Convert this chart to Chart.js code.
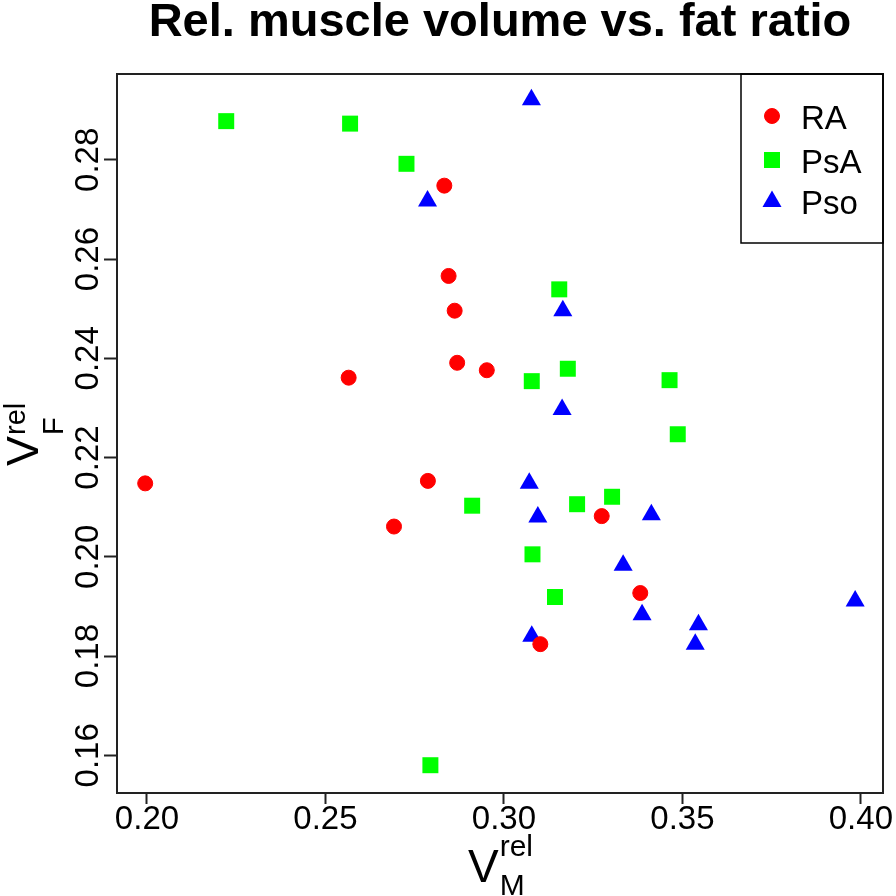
<!DOCTYPE html>
<html>
<head>
<meta charset="utf-8">
<script src="https://cdn.jsdelivr.net/npm/chart.js@4.4.1/dist/chart.umd.min.js"></script>
<style>
  html, body { margin: 0; padding: 0; background: #fff; }
</style>
</head>
<body>
<canvas id="chart" width="896" height="896"></canvas>
<script>
const titleText = 'Rel. muscle volume vs. fat ratio';
const seriesNames = ['RA', 'PsA', 'Pso'];

const raX = [0.1995, 0.2833, 0.2845, 0.2862, 0.2869, 0.2952, 0.2565, 0.2787, 0.2692, 0.3274, 0.3382, 0.3102];
const raY = [0.2148, 0.2748, 0.2566, 0.2496, 0.2391, 0.2376, 0.2361, 0.2153, 0.2061, 0.2082, 0.1927, 0.1824];

const psaX = [0.2222, 0.2569, 0.2727, 0.3155, 0.3179, 0.3078, 0.3464, 0.3487, 0.2911, 0.3205, 0.3303, 0.3080, 0.3143, 0.2794];
const psaY = [0.2878, 0.2873, 0.2792, 0.2539, 0.2379, 0.2354, 0.2356, 0.2247, 0.2103, 0.2106, 0.2121, 0.2005, 0.1919, 0.1580];

const psoX = [0.3077, 0.2786, 0.3165, 0.3163, 0.3071, 0.3095, 0.3413, 0.3334, 0.3387, 0.3545, 0.3536, 0.3078, 0.3984];
const psoY = [0.2921, 0.2717, 0.2496, 0.2297, 0.2148, 0.2080, 0.2085, 0.1983, 0.1883, 0.1863, 0.1824, 0.1840, 0.1911];

const xTicks = [0.20, 0.25, 0.30, 0.35, 0.40];
const yTicks = [0.16, 0.18, 0.20, 0.22, 0.24, 0.26, 0.28];
const xRange = [0.1916, 0.4062];
const yRange = [0.1524, 0.2973];

const FONT = '"Liberation Sans", Arial, sans-serif';

function pts(xs, ys) {
    return xs.map((x, i) => ({ x: x, y: ys[i] }));
}

// title, box, axis labels with sub/superscripts, legend
const decor = {
    id: 'decor',
    afterDraw(chart) {
        const ctx = chart.ctx;
        const a = chart.chartArea;
        const cx = (a.left + a.right) / 2;
        ctx.save();
        ctx.strokeStyle = '#222';
        ctx.lineWidth = 2;
        ctx.strokeRect(a.left, a.top, a.right - a.left, a.bottom - a.top);

        ctx.fillStyle = '#000';
        ctx.font = 'bold 47px ' + FONT;
        ctx.textAlign = 'center';
        ctx.textBaseline = 'alphabetic';
        ctx.fillText(titleText, cx, 36);

        // x label: V rel / M
        ctx.textAlign = 'left';
        ctx.font = '46px ' + FONT;
        const vw = ctx.measureText('V').width;
        ctx.font = '30px ' + FONT;
        const rw = ctx.measureText('rel').width;
        let x0 = cx - (vw + rw) / 2;
        ctx.font = '46px ' + FONT;
        ctx.fillText('V', x0, 882);
        ctx.font = '30px ' + FONT;
        ctx.fillText('rel', x0 + vw + 1, 856);
        ctx.fillText('M', x0 + vw + 1, 895);

        // y label rotated
        ctx.save();
        ctx.translate(38, 466);
        ctx.rotate(-Math.PI / 2);
        ctx.font = '45px ' + FONT;
        ctx.fillText('V', 0, 0);
        const vw2 = ctx.measureText('V').width;
        ctx.font = '29px ' + FONT;
        ctx.fillText('rel', vw2 + 1, -13);
        ctx.fillText('F', vw2 + 1, 25);
        ctx.restore();

        // legend
        const lx = a.right - 142, ly = a.top, lh = 169;
        ctx.lineWidth = 1.5;
        ctx.strokeStyle = '#000';
        ctx.strokeRect(lx, ly, a.right - lx, lh);
        const rows = [42, 86, 127.5];
        chart.data.datasets.forEach((ds, i) => {
            const y = ly + rows[i];
            ctx.fillStyle = ds.backgroundColor;
            ctx.strokeStyle = ds.borderColor;
            ctx.lineWidth = ds.borderWidth;
            Chart.helpers.drawPoint(ctx, {
                pointStyle: ds.pointStyle,
                radius: ds.pointRadius,
                borderWidth: ds.borderWidth,
                rotation: 0
            }, lx + 31, y);
            ctx.fillStyle = '#000';
            ctx.font = '33px ' + FONT;
            ctx.textBaseline = 'middle';
            ctx.fillText(ds.label, lx + 60, y + 3.5);
        });
        ctx.restore();
    }
};

new Chart(document.getElementById('chart'), {
    type: 'scatter',
    data: {
        datasets: [
            { label: seriesNames[0], data: pts(raX, raY), pointStyle: 'circle', pointRadius: 7.5,
              backgroundColor: '#FF0000', borderColor: '#FF0000', borderWidth: 1 },
            { label: seriesNames[1], data: pts(psaX, psaY), pointStyle: 'rect', pointRadius: 11.3,
              backgroundColor: '#00FF00', borderColor: '#00FF00', borderWidth: 0 },
            { label: seriesNames[2], data: pts(psoX, psoY), pointStyle: 'triangle', pointRadius: 11,
              backgroundColor: '#0000FF', borderColor: '#0000FF', borderWidth: 0 }
        ]
    },
    options: {
        responsive: false,
        animation: false,
        layout: { padding: { top: 74, right: 13, left: 0, bottom: 0 } },
        plugins: { legend: { display: false }, title: { display: false }, tooltip: { enabled: false } },
        elements: { point: { hoverRadius: 0 } },
        scales: {
            x: {
                type: 'linear',
                min: xRange[0], max: xRange[1],
                afterBuildTicks: s => { s.ticks = xTicks.map(v => ({ value: v })); },
                afterFit: s => { s.height = 103; },
                border: { display: false },
                grid: { drawOnChartArea: false, drawTicks: true, tickLength: 11, tickWidth: 2, tickColor: '#222' },
                ticks: { color: '#000', font: { family: FONT, size: 33 }, padding: -4, autoSkip: false,
                         maxRotation: 0, callback: v => v.toFixed(2) }
            },
            y: {
                type: 'linear',
                min: yRange[0], max: yRange[1],
                afterBuildTicks: s => { s.ticks = yTicks.map(v => ({ value: v })); },
                afterFit: s => { s.width = 117; },
                border: { display: false },
                grid: { drawOnChartArea: false, drawTicks: true, tickLength: 13, tickWidth: 2, tickColor: '#222' },
                ticks: { color: '#000', font: { family: FONT, size: 33 }, padding: -17, autoSkip: false,
                         minRotation: 90, maxRotation: 90, crossAlign: 'center',
                         callback: v => v.toFixed(2) }
            }
        }
    },
    plugins: [decor]
});
</script>
</body>
</html>
